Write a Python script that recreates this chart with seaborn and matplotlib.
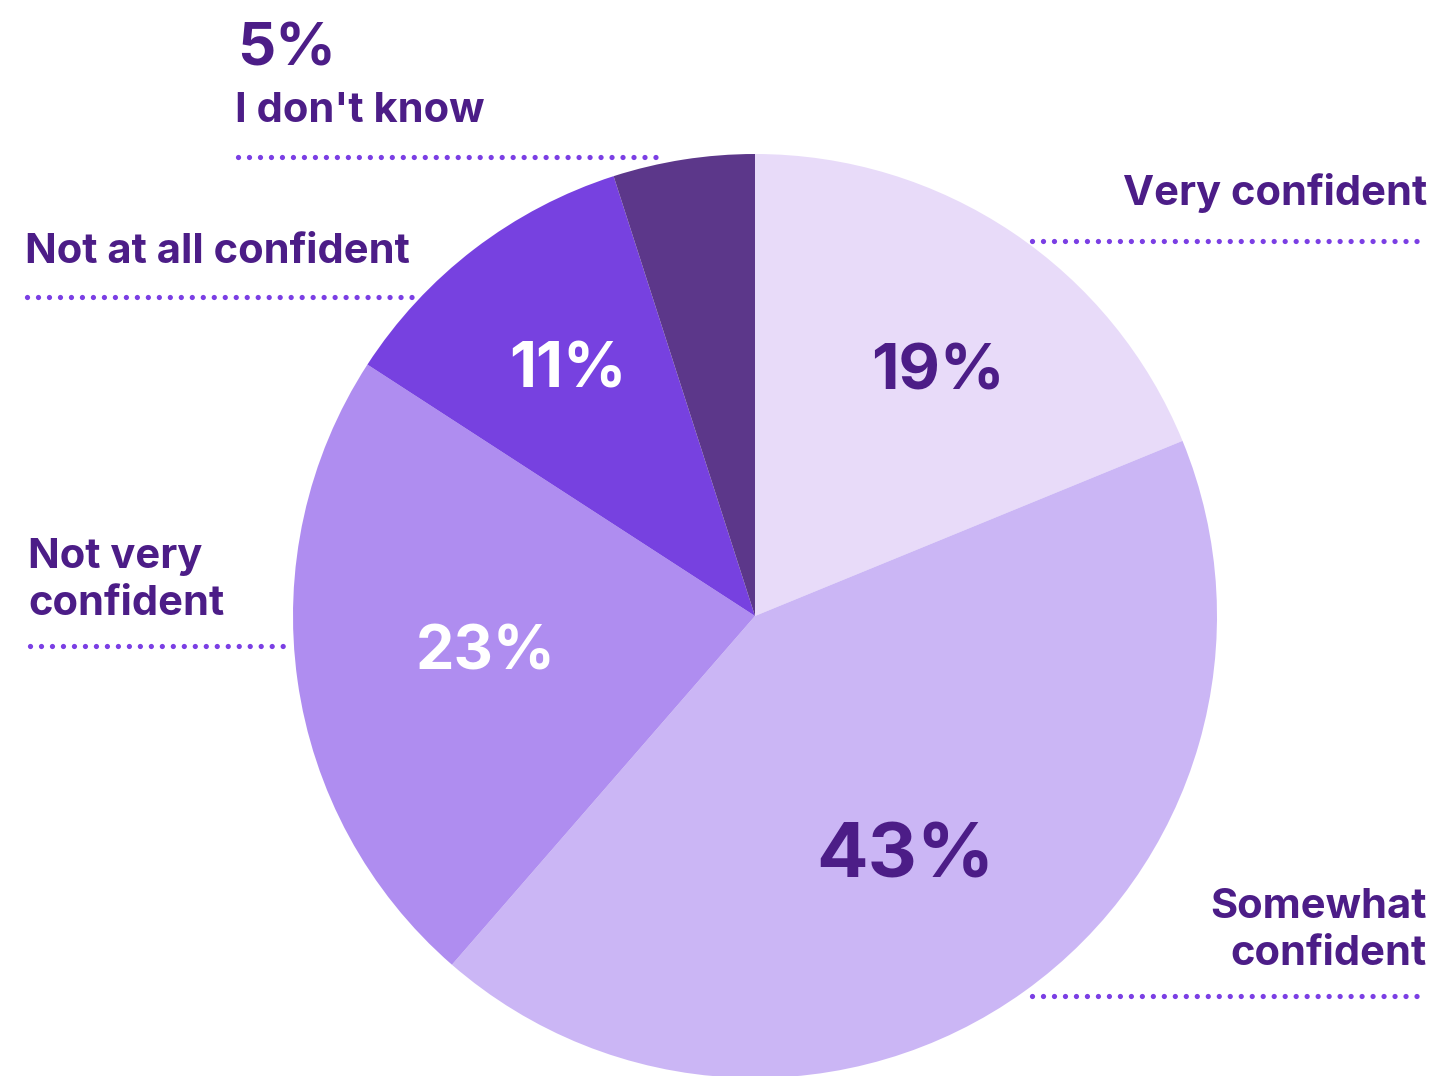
import matplotlib
matplotlib.use("Agg")
import matplotlib.pyplot as plt
import seaborn as sns
import numpy as np

categories = ["Very confident", "Somewhat confident", "Not very confident",
              "Not at all confident", "I don't know"]
values = [19, 43, 23, 11, 5]
pct_labels = ["19%", "43%", "23%", "11%", "5%"]
slice_colors = ["#E8DBF9", "#CBB6F5", "#AF8DF0", "#7741E0", "#5C378A"]

sns.set_theme(style="white")
plt.rcParams['font.family'] = ['Inter', 'DejaVu Sans']
plt.rcParams['lines.scale_dashes'] = False

TEXT = "#4C1D87"
DOT = "#7B3FE4"
W, H = 1435, 1076

fig = plt.figure(figsize=(W / 100, H / 100), dpi=100)
ax = fig.add_axes([0, 0, 1, 1])

def py(y):
    return H - y

ax.pie(values, colors=slice_colors, startangle=90, counterclock=False,
       center=(755, py(616)), radius=462, frame=False,
       wedgeprops=dict(linewidth=0))
ax.set_xlim(0, W)
ax.set_ylim(0, H)
ax.set_axis_off()

# percentage labels inside slices (x center, baseline y)
inside = [(938, 389, TEXT, 46), (905, 877, TEXT, 55), (486, 669, "white", 44),
          (568, 387, "white", 45)]
for (x, y, c, s), lab in zip(inside, pct_labels[:4]):
    ax.text(x, py(y), lab, ha="center", va="baseline", color=c,
            fontsize=s, fontweight="bold")

# outside 5%
ax.text(237, py(65), pct_labels[4], ha="left", va="baseline", color=TEXT,
        fontsize=43, fontweight="bold")

fs = 30
ax.text(235, py(122), categories[4], ha="left", va="baseline", color=TEXT,
        fontsize=fs, fontweight="bold")
ax.text(1427, py(205), categories[0], ha="right", va="baseline", color=TEXT,
        fontsize=fs, fontweight="bold")
ax.text(25, py(263), categories[3], ha="left", va="baseline", color=TEXT,
        fontsize=fs, fontweight="bold")
ax.text(28, py(568), "Not very", ha="left", va="baseline", color=TEXT,
        fontsize=fs, fontweight="bold")
ax.text(28, py(615), "confident", ha="left", va="baseline", color=TEXT,
        fontsize=fs, fontweight="bold")
ax.text(1427, py(918), "Somewhat", ha="right", va="baseline", color=TEXT,
        fontsize=fs, fontweight="bold")
ax.text(1427, py(965), "confident", ha="right", va="baseline", color=TEXT,
        fontsize=fs, fontweight="bold")

# dotted leader lines
lines = [(238, 660, 157), (1032, 1418, 241), (27, 412, 297),
         (30, 285, 646), (1032, 1418, 996)]
for x0, x1, y in lines:
    ax.plot([x0, x1], [py(y), py(y)], color=DOT, lw=3.8,
            linestyle=(0, (0.01, 7.9)), dash_capstyle="round",
            solid_capstyle="round")

fig.savefig("out.png", dpi=100)
